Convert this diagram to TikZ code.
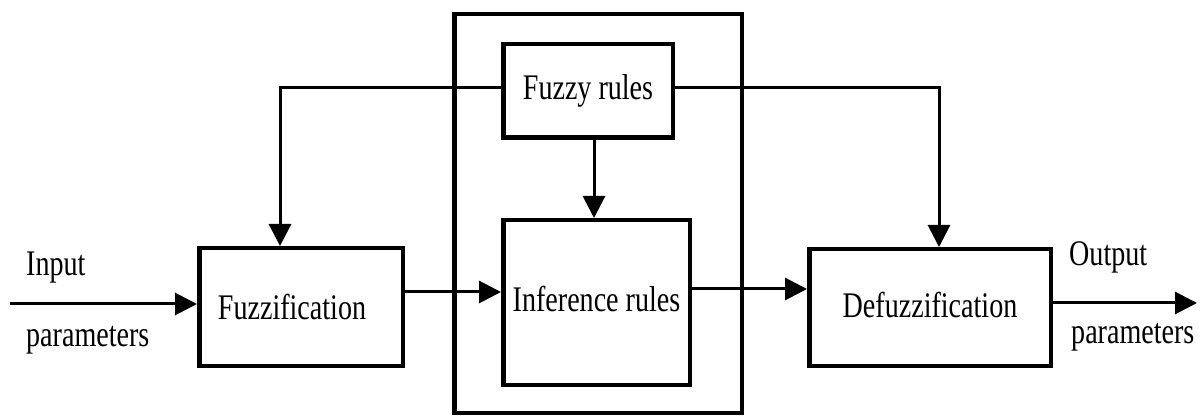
\documentclass[tikz,border=0pt]{standalone}
\usepackage{fontspec}
\setmainfont{Liberation Serif}[FakeStretch=0.78]
\usetikzlibrary{arrows.meta}
\begin{document}
\begin{tikzpicture}[x=1pt,y=-1pt,
  box/.style={draw,line width=4.5pt,inner sep=0pt,font=\fontsize{36}{40}\selectfont},
  conn/.style={line width=3pt},
  arr/.style={conn,-{Triangle[length=22pt,width=22pt]}},
  lbl/.style={font=\fontsize{36}{40}\selectfont,inner sep=0pt}]
\useasboundingbox (0,0) rectangle (1204,419);
\node[box,minimum width=287.5pt,minimum height=398.5pt] (outer) at (598,213.5) {};
\node[box,minimum width=169.5pt,minimum height=93.5pt] (fr) at (588,91) {\raisebox{3pt}{Fuzzy rules}};
\node[box,minimum width=186.5pt,minimum height=164.5pt,text depth=0pt] (inf) at (596.5,302.5) {\raisebox{8pt}{Inference rules}};
\node[box,minimum width=203.5pt,minimum height=117.5pt] (fuzz) at (301,307) {\hspace*{-18pt}Fuzzification};
\node[box,minimum width=241.5pt,minimum height=116.5pt] (defuzz) at (930,307.5) {\raisebox{6pt}{Defuzzification}};
\coordinate (in) at (10,304);
\coordinate (out) at (1197,303);
\node[lbl,anchor=west] (inlbl) at (26,268) {Input};
\node[lbl,anchor=west] (inpar) at (26,340) {parameters};
\node[lbl,anchor=west] (outlbl) at (1069,257) {Output};
\node[lbl,anchor=west] (outpar) at (1071,337) {parameters};
\draw[arr] (in) -- (in -| fuzz.west);
\draw[arr] ([yshift=15pt]fuzz.east) -- ([yshift=10.5pt]inf.west);
\draw[arr] ([yshift=13.5pt]inf.east) -- ([yshift=18.5pt]defuzz.west);
\draw[arr] ([yshift=4.5pt]defuzz.east) -- (out);
\draw[arr] ([xshift=6pt]fr.south) -- ([xshift=-2.5pt]inf.north);
\draw[arr] ([yshift=3pt]fr.west) -| ([xshift=-21pt]fuzz.north);
\draw[arr] ([yshift=3pt]fr.east) -| ([xshift=9pt]defuzz.north);
\end{tikzpicture}
\end{document}
